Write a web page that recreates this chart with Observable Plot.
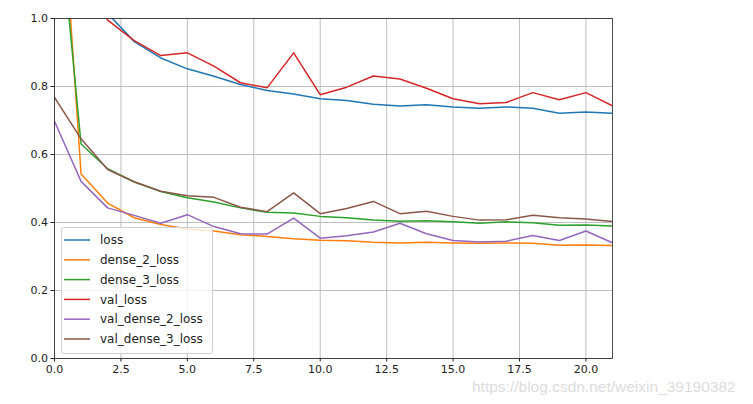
<!DOCTYPE html>
<html>
<head>
<meta charset="utf-8">
<script src="https://cdn.jsdelivr.net/npm/d3@7"></script>
<script src="https://cdn.jsdelivr.net/npm/@observablehq/plot@0.6"></script>
<style>
  html, body { margin: 0; padding: 0; background: #fff; }
  #chart { position: relative; width: 753px; height: 404px; }
  #wm { position: absolute; left: 472px; top: 378px; font: 15.5px "Liberation Sans", Arial, sans-serif; color: #dcdcdc; white-space: nowrap; }
</style>
</head>
<body>
<div id="chart"></div>
<script>
const epochs = d3.range(0, 22);
const seriesNames = ["loss", "dense_2_loss", "dense_3_loss", "val_loss", "val_dense_2_loss", "val_dense_3_loss"];
const seriesColors = ["#1f77b4", "#ff7f0e", "#2ca02c", "#d62728", "#9467bd", "#8c564b"];

const loss = [3.15, 1.17, 1.015, 0.932, 0.884, 0.852, 0.830, 0.806, 0.788, 0.778, 0.764, 0.759, 0.748, 0.743, 0.746, 0.740, 0.736, 0.740, 0.736, 0.721, 0.725, 0.721];
const dense2Loss = [1.70, 0.543, 0.457, 0.414, 0.394, 0.381, 0.375, 0.364, 0.359, 0.352, 0.348, 0.346, 0.342, 0.340, 0.342, 0.340, 0.339, 0.340, 0.339, 0.333, 0.334, 0.332];
const dense3Loss = [1.45, 0.631, 0.558, 0.519, 0.491, 0.473, 0.460, 0.443, 0.430, 0.428, 0.418, 0.414, 0.407, 0.404, 0.405, 0.402, 0.398, 0.402, 0.399, 0.392, 0.393, 0.390];
const valLoss = [1.466, 1.167, 0.995, 0.935, 0.891, 0.899, 0.860, 0.811, 0.796, 0.899, 0.776, 0.798, 0.831, 0.822, 0.795, 0.764, 0.749, 0.753, 0.782, 0.761, 0.782, 0.743];
const valDense2Loss = [0.698, 0.521, 0.443, 0.421, 0.398, 0.423, 0.388, 0.367, 0.366, 0.413, 0.354, 0.361, 0.372, 0.398, 0.367, 0.347, 0.343, 0.345, 0.362, 0.347, 0.375, 0.340];
const valDense3Loss = [0.768, 0.646, 0.556, 0.520, 0.492, 0.479, 0.474, 0.445, 0.432, 0.487, 0.426, 0.441, 0.462, 0.426, 0.433, 0.418, 0.407, 0.408, 0.421, 0.414, 0.410, 0.403];

const xTicks = [0, 2.5, 5, 7.5, 10, 12.5, 15, 17.5, 20];
const yTicks = [0, 0.2, 0.4, 0.6, 0.8, 1.0];

const allSeries = [loss, dense2Loss, dense3Loss, valLoss, valDense2Loss, valDense3Loss];
const rows = [];
allSeries.forEach((vals, si) => {
  vals.forEach((v, i) => rows.push({ series: seriesNames[si], epoch: epochs[i], value: v }));
});

const fmt = d3.format(".1f");
const font = "DejaVu Sans, sans-serif";

const plot = Plot.plot({
  width: 753,
  height: 404,
  marginLeft: 54,
  marginRight: 141,
  marginTop: 18,
  marginBottom: 46,
  style: { fontFamily: font, fontSize: "11px", color: "#222", background: "#fff" },
  x: { domain: [0, 21], label: null },
  y: { domain: [0, 1], label: null },
  color: { domain: seriesNames, range: seriesColors },
  marks: [
    Plot.gridX(xTicks, { stroke: "#b0b0b0", strokeOpacity: 1, strokeWidth: 0.8 }),
    Plot.gridY(yTicks, { stroke: "#b0b0b0", strokeOpacity: 1, strokeWidth: 0.8 }),
    Plot.line(rows, { x: "epoch", y: "value", z: "series", stroke: "series", strokeWidth: 1.5, clip: true }),
    Plot.frame({ stroke: "#222", strokeWidth: 0.8 }),
    Plot.axisX(xTicks, { tickSize: 3.5, tickPadding: 3, tickFormat: fmt, fontSize: 11, stroke: "#222", fill: "#222", label: null }),
    Plot.axisY(yTicks, { tickSize: 3.5, tickPadding: 3, tickFormat: fmt, fontSize: 11, stroke: "#222", fill: "#222", label: null })
  ]
});

document.getElementById("chart").appendChild(plot);

// Legend (lower left, matplotlib style)
const svg = d3.select(plot);
const lg = svg.append("g").attr("transform", "translate(61,227)").attr("text-anchor", "start");
lg.append("rect").attr("x", 0.5).attr("y", 0.5).attr("width", 151).attr("height", 126)
  .attr("rx", 2).attr("fill", "#fff").attr("fill-opacity", 0.8)
  .attr("stroke", "#d0d0d0").attr("stroke-width", 1);
seriesNames.forEach((name, i) => {
  const cy = 13 + i * 19.8;
  lg.append("line").attr("x1", 3).attr("x2", 29).attr("y1", cy).attr("y2", cy)
    .attr("stroke", seriesColors[i]).attr("stroke-width", 1.5);
  lg.append("text").attr("x", 39).attr("y", cy).attr("dy", "0.35em").attr("text-anchor", "start")
    .attr("font-family", font).attr("font-size", 12).attr("fill", "#222").text(name);
});
</script>
<div id="wm">https://blog.csdn.net/weixin_39190382</div>
<script>
document.getElementById("chart").appendChild(document.getElementById("wm"));
</script>
</body>
</html>
